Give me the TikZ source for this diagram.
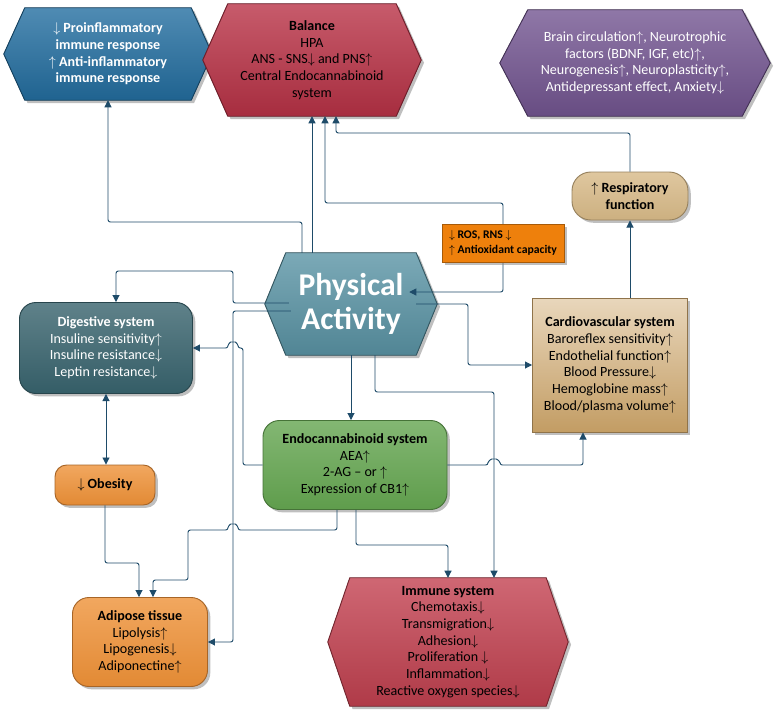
\documentclass[tikz,border=0pt]{standalone}
\usepackage{fontspec}
\setmainfont{Carlito}
\usetikzlibrary{arrows.meta, calc, backgrounds, shadows}
\definecolor{linecol}{RGB}{30,75,105}
\definecolor{problue}{RGB}{35,110,160}
\definecolor{balred}{RGB}{185,50,70}
\definecolor{brainpurple}{RGB}{115,85,145}
\definecolor{pateal}{RGB}{90,148,165}
\definecolor{digteal}{RGB}{55,98,108}
\definecolor{adiporange}{RGB}{238,145,55}
\definecolor{endogreen}{RGB}{100,165,80}
\definecolor{resptan}{RGB}{215,185,135}
\definecolor{cardiotan}{RGB}{205,165,105}
\definecolor{rosorange}{RGB}{238,128,12}
\definecolor{immred}{RGB}{195,65,80}
\newcommand{\px}{*0.03cm}
\tikzset{
  box/.style={align=center, font=\fontsize{12}{14.2}\selectfont, inner sep=1pt},
  hex/.style={box, minimum height=#1\px},
  rbox/.style={box, draw=#1!70!black, thick, rounded corners=14pt,
    top color=#1!80, bottom color=#1!95!black, drop shadow},
  arr/.style={-{Triangle[length=6pt,width=6pt]}, linecol, thick, rounded corners=2pt},
  dbl/.style={arr, {Triangle[length=6pt,width=6pt]}-{Triangle[length=6pt,width=6pt]}}
}
\newcommand{\hexfill}[4]{% node, chamfer, colour, border
  \fill[top color=#3!80, bottom color=#3!90!black, draw=#4, thick, drop shadow]
    (#1.north west) -- (#1.north east) -- ([xshift=#2\px]#1.east) -- (#1.south east)
    -- (#1.south west) -- ([xshift=-#2\px]#1.west) -- cycle;}
\begin{document}
\begin{tikzpicture}[x=0.03cm, y=-0.03cm]
  \useasboundingbox (0,0) rectangle (775,721);
  % Hexagon nodes
  \node[hex=92, minimum width=166\px, text=white] (pro) at (108,54)
    {\textbf{$\downarrow$ Proinflammatory}\\ \textbf{immune response}\\ \textbf{$\uparrow$ Anti-inflammatory}\\ \textbf{immune response}};
  \node[hex=112, minimum width=168\px] (bal) at (312,60)
    {\textbf{Balance}\\ HPA\\ ANS - SNS$\downarrow$ and PNS$\uparrow$\\ Central Endocannabinoid\\ system};
  \node[hex=106, minimum width=214\px, text=white] (brain) at (635,63)
    {Brain circulation$\uparrow$, Neurotrophic\\ factors (BDNF, IGF, etc)$\uparrow$,\\ Neurogenesis$\uparrow$, Neuroplasticity$\uparrow$,\\ Antidepressant effect, Anxiety$\downarrow$};
  \node[hex=102, minimum width=130\px, text=white, font=\fontsize{27}{29}\selectfont\bfseries] (pa) at (351,304)
    {Physical\\ Activity};
  \node[hex=128, minimum width=196\px] (imm) at (448,642)
    {\textbf{Immune system}\\ Chemotaxis$\downarrow$\\ Transmigration$\downarrow$\\ Adhesion$\downarrow$\\ Proliferation $\downarrow$\\ Inflammation$\downarrow$\\ Reactive oxygen species$\downarrow$};
  \begin{scope}[on background layer]
    \hexfill{pro}{21}{problue}{problue!60!black}
    \hexfill{bal}{25}{balred}{balred!60!black}
    \hexfill{brain}{28}{brainpurple}{brainpurple!60!black}
    \hexfill{pa}{21}{pateal}{pateal!60!black}
    \hexfill{imm}{22}{immred}{immred!60!black}
  \end{scope}
  % Rounded boxes
  \node[rbox=digteal, text=white, minimum width=173\px, minimum height=91\px] (dig) at (106,348)
    {\textbf{Digestive system}\\ Insuline sensitivity$\uparrow$\\ Insuline resistance$\downarrow$\\ Leptin resistance$\downarrow$};
  \node[rbox=adiporange, rounded corners=10pt, minimum width=100\px, minimum height=40\px] (obe) at (105,485)
    {\textbf{$\downarrow$ Obesity}};
  \node[rbox=adiporange, minimum width=135\px, minimum height=89\px] (adi) at (140,642)
    {\textbf{Adipose tissue}\\ Lipolysis$\uparrow$\\ Lipogenesis$\downarrow$\\ Adiponectine$\uparrow$};
  \node[rbox=endogreen, minimum width=184\px, minimum height=89\px] (endo) at (355,465)
    {\textbf{Endocannabinoid system}\\ AEA$\uparrow$\\ 2-AG -- or $\uparrow$\\ Expression of CB1$\uparrow$};
  \node[rbox=resptan, rounded corners=16pt, minimum width=116\px, minimum height=48\px] (resp) at (630,196)
    {\textbf{$\uparrow$ Respiratory}\\ \textbf{function}};
  \node[box, draw=cardiotan!70!black, thick, top color=cardiotan!45, bottom color=cardiotan!95!black,
    drop shadow, minimum width=155\px, minimum height=134\px] (cardio) at (610,365)
    {\textbf{Cardiovascular system}\\ Baroreflex sensitivity$\uparrow$\\ Endothelial function$\uparrow$\\ Blood Pressure$\downarrow$\\ Hemoglobine mass$\uparrow$\\ Blood/plasma volume$\uparrow$};

  % Connectors
  \draw[arr] (302,0 |- pa.north) -- (302,222) -| (pro.south);
  \draw[arr] (312,0 |- pa.north) -- (312,0 |- bal.south);
  \draw[dbl] ($(pa.east)+(-7,-12)$) -| (503,203) -| (325,0 |- bal.south);
  \draw[arr] (resp.north) |- (336,133) -- (336,0 |- bal.south);
  \draw[arr] (630,0 |- cardio.north) -- (resp.south);
  \draw[arr] (pa.east) -- (468,304) |- (cardio.west |- 0,365);
  \draw[arr] ($(pa.west)+(3,-1)$) -- (233,303) |- (116,271) -- (116,0 |- dig.north);
  \draw[arr] ($(pa.west)+(5,7)$) -- (233,311) |- (adi.east |- 0,642);
  \draw[arr] (351,0 |- pa.south) -- (351,0 |- endo.north);
  \draw[arr] (375,0 |- pa.south) |- (494,392) -- (494,0 |- imm.north);
  \draw[dbl] (106,0 |- dig.south) -- (106,0 |- obe.north);
  \draw[arr] (obe.south) |- (139,563) -- (139,0 |- adi.north);
  \draw[arr] (endo.west |- 0,465) -| (243,348) -- (238,348) to[out=90,in=0] (233,342) to[out=180,in=90] (228,348) -- (dig.east |- 0,348);
  \draw[arr] (337,0 |- endo.south) |- (238,530) to[out=90,in=0] (233,524) to[out=180,in=90] (228,530) -| (188,580) -| (153,0 |- adi.north);
  \draw[arr] (356,0 |- endo.south) |- (448,545) -- (448,0 |- imm.north);
  \draw[arr] (endo.east |- 0,465) -- (488,465) to[out=90,in=180] (494,459) to[out=0,in=90] (500,465) -| (583,0 |- cardio.south);
  % ROS box on top of its line
  \node[box, font=\fontsize{10}{12.5}\selectfont\bfseries, align=left, fill=rosorange, draw=rosorange!70!black,
    drop shadow, minimum width=122\px, minimum height=38\px] (ros) at (503,243)
    {$\downarrow$ ROS, RNS $\downarrow$\\ $\uparrow$ Antioxidant capacity};
\end{tikzpicture}
\end{document}
